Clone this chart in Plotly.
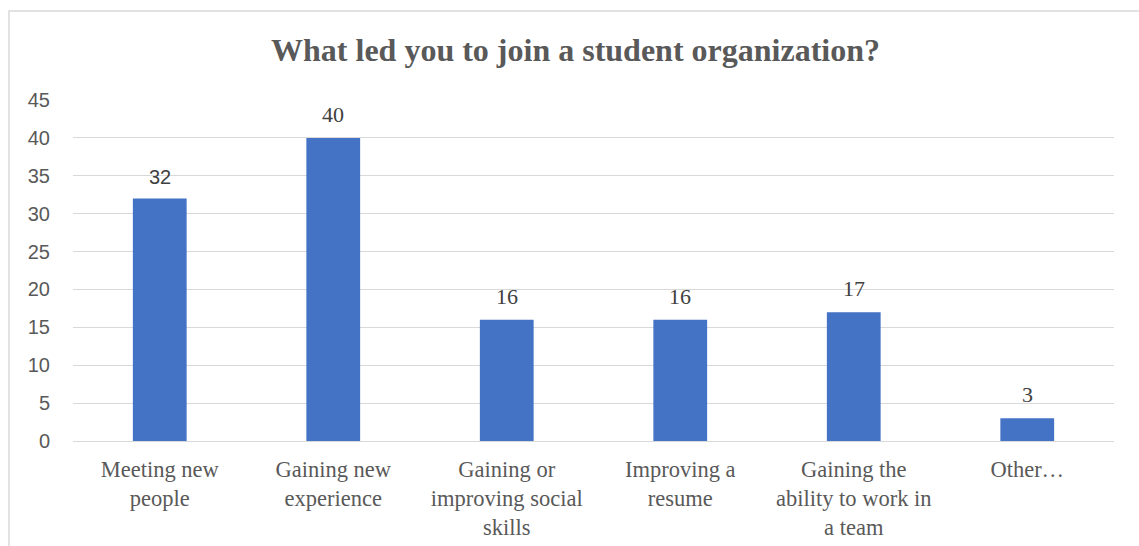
import plotly.graph_objects as go

categories = ["Meeting new<br>people", "Gaining new<br>experience", "Gaining or<br>improving social<br>skills",
              "Improving a<br>resume", "Gaining the<br>ability to work in<br>a team", "Other…"]
values = [32, 40, 16, 16, 17, 3]
label_fonts = ["Liberation Sans", "Liberation Serif", "Liberation Serif", "Liberation Serif", "Liberation Serif", "Liberation Serif"]
y_ticks = [0, 5, 10, 15, 20, 25, 30, 35, 40, 45]

L, R, T, B = 73, 25, 100, 105
W, H = 1139, 546
pw, ph = W - L - R, H - T - B

def px_x(p):
    return (p - L) / pw

def px_y(p):
    return (H - B - p) / ph

fig = go.Figure(go.Bar(
    x=categories, y=values,
    marker=dict(color="#4472C4", line=dict(width=0)),
    cliponaxis=False,
))

for c, v, f in zip(categories, values, label_fonts):
    fig.add_annotation(x=c, y=v, text=str(v), showarrow=False, yanchor="bottom", yshift=9,
                       font=dict(family=f, size=22 if "Serif" in f else 20, color="#404040"))

fig.update_layout(
    width=W, height=H,
    margin=dict(l=L, r=R, t=T, b=B, autoexpand=False),
    paper_bgcolor="white", plot_bgcolor="white",
    bargap=0.69,
    showlegend=False,
    title=dict(text="<b>What led you to join a student organization?</b>",
               x=575.5 / W, xanchor="center", xref="container", y=(H - 50) / H, yanchor="middle",
               font=dict(family="Liberation Serif", size=32, color="#595959")),
    xaxis=dict(showgrid=False, showline=False, ticks="", automargin=False,
               tickfont=dict(family="Liberation Serif", size=22.5, color="#595959"),
               ticklabelstandoff=12),
    yaxis=dict(range=[0, 45], tickvals=y_ticks, showgrid=True, gridcolor="#d9d9d9", gridwidth=1,
               zeroline=True, zerolinecolor="#d9d9d9", zerolinewidth=1, showline=False, ticks="",
               automargin=False,
               tickfont=dict(family="Liberation Sans", size=20, color="#595959"),
               ticklabelstandoff=22),
    shapes=[dict(type="rect", xref="paper", yref="paper",
                 x0=px_x(9), x1=px_x(1160), y0=px_y(570), y1=px_y(11),
                 line=dict(color="#d9d9d9", width=1.5), fillcolor="rgba(0,0,0,0)", layer="below")],
)

fig.write_html("out.html")
